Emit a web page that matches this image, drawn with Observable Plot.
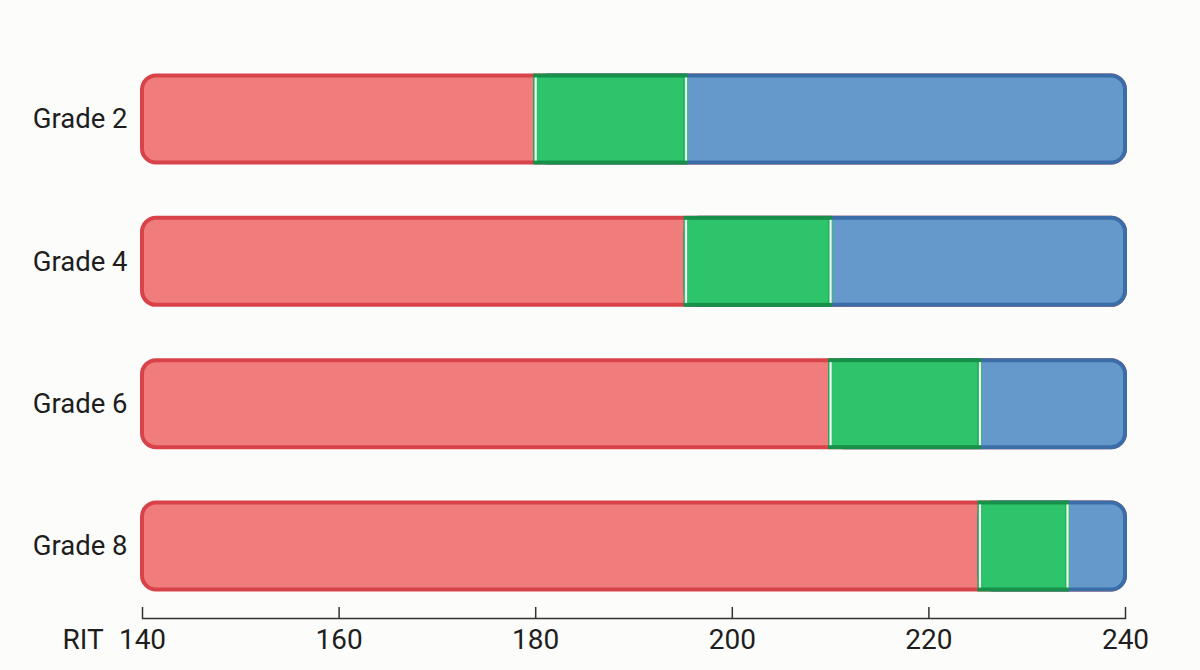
<!DOCTYPE html>
<html>
<head>
<meta charset="utf-8">
<script src="https://cdn.jsdelivr.net/npm/d3@7"></script>
<script src="https://cdn.jsdelivr.net/npm/@observablehq/plot@0.6"></script>
<style>
  html, body { margin: 0; padding: 0; background: #fcfcfb; }
  #chart { width: 1200px; height: 670px; }
</style>
</head>
<body>
<div id="chart"></div>
<script>
const grades = ["Grade 2", "Grade 4", "Grade 6", "Grade 8"];
const scaleStart = 140;
const scaleEnd = 240;
const redEnd = [180, 195.3, 210, 225.2];
const greenEnd = [195.3, 210, 225.2, 234.1];
const tickValues = [140, 160, 180, 200, 220, 240];
const axisTitle = "RIT";

const rows = grades.map((g, i) => ({
  grade: g,
  start: scaleStart,
  redEnd: redEnd[i],
  greenEnd: greenEnd[i],
  end: scaleEnd
}));

const W = 1200, H = 670;
const mTop = 47, mBottom = 52, mLeft = 142, mRight = 75;
const frameH = H - mTop - mBottom;
const sw = 4;

const chart = Plot.plot({
  width: W,
  height: H,
  marginTop: mTop,
  marginBottom: mBottom,
  marginLeft: mLeft,
  marginRight: mRight,
  style: { fontFamily: "Roboto, 'Noto Sans', sans-serif", background: "transparent", color: "#1e1e1e" },
  x: { domain: [scaleStart, scaleEnd], axis: null },
  y: { domain: grades, type: "band", paddingInner: 0.382, paddingOuter: 0.197, round: false, axis: null },
  marks: [
    // red: full rounded bar
    Plot.rectX(rows, { y: "grade", x1: "start", x2: "end", fill: "#f17c7c", stroke: "#d8434a", strokeWidth: sw, rx: 14, insetTop: 0.5, insetBottom: 0.5 }),
    // blue: rounded on the right end
    Plot.rectX(rows, { y: "grade", x1: "redEnd", x2: "end", fill: "#6699cb", stroke: "#3b6ea8", strokeWidth: sw, rx: 14, insetTop: 0.5, insetBottom: 0.5 }),
    // green: middle segment
    Plot.rectX(rows, { y: "grade", x1: "redEnd", x2: "greenEnd", fill: "#2dc46b", stroke: "#17904a", strokeWidth: sw, insetTop: 0.5, insetBottom: 0.5 }),
    // cover the green side strokes, then white separators
    Plot.tickX(rows, { x: "redEnd", y: "grade", stroke: "#2dc46b", strokeWidth: 4.2, insetTop: 2.5, insetBottom: 2.5 }),
    Plot.tickX(rows, { x: "greenEnd", y: "grade", stroke: "#2dc46b", strokeWidth: 4.2, insetTop: 2.5, insetBottom: 2.5 }),
    Plot.tickX(rows, { x: "redEnd", y: "grade", stroke: "#ffffff", strokeWidth: 2, insetTop: 2.5, insetBottom: 2.5 }),
    Plot.tickX(rows, { x: "greenEnd", y: "grade", stroke: "#ffffff", strokeWidth: 2, insetTop: 2.5, insetBottom: 2.5 }),
    // axis baseline and upward ticks
    Plot.frame({ anchor: "bottom", stroke: "#333", strokeWidth: 1.5 }),
    Plot.tickX(tickValues, { x: d => d, stroke: "#333", strokeWidth: 1.5, insetTop: frameH - 11 }),
    Plot.axisX({ ticks: tickValues, tickSize: 0, tickPadding: 11, fontSize: 28, label: null, fill: "#1e1e1e" }),
    Plot.axisY({ tickSize: 0, tickPadding: 15, fontSize: 27.5, label: null, fill: "#1e1e1e" }),
    Plot.text([axisTitle], { text: d => d, frameAnchor: "bottom-left", dx: -80, dy: 11, textAnchor: "start", lineAnchor: "top", fontSize: 28, fill: "#1e1e1e" })
  ]
});

document.getElementById("chart").appendChild(chart);
</script>
</body>
</html>
